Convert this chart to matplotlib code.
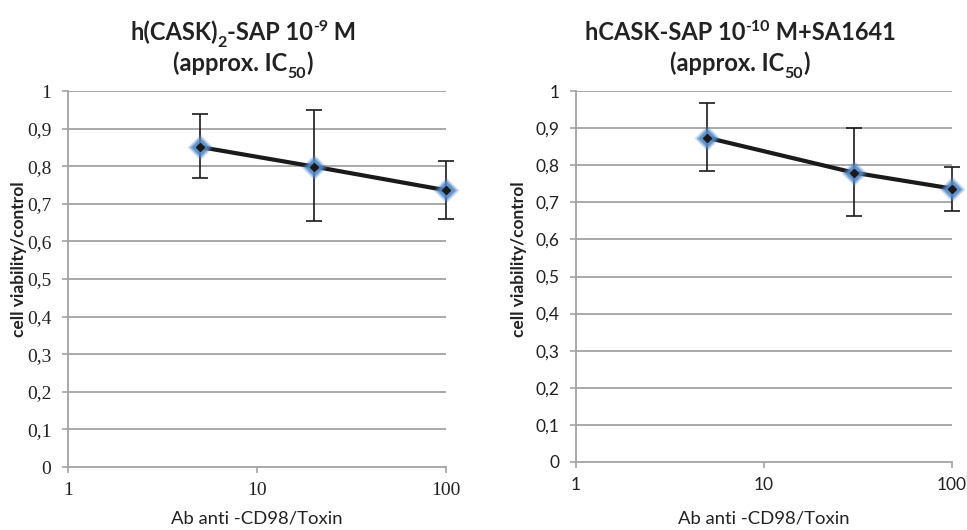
import matplotlib
matplotlib.use("Agg")
import matplotlib.pyplot as plt
import numpy as np

# Data
x_left = [5, 20, 100]
y_left = [0.851, 0.799, 0.736]
err_low_left = [0.768, 0.653, 0.660]
err_high_left = [0.938, 0.950, 0.814]

x_right = [5, 30, 100]
y_right = [0.874, 0.780, 0.737]
err_low_right = [0.784, 0.663, 0.677]
err_high_right = [0.969, 0.900, 0.794]

yticks = [0, 0.1, 0.2, 0.3, 0.4, 0.5, 0.6, 0.7, 0.8, 0.9, 1.0]
ytick_labels = ["0", "0,1", "0,2", "0,3", "0,4", "0,5", "0,6", "0,7", "0,8", "0,9", "1"]
xticks = [1, 10, 100]
xtick_labels = ["1", "10", "100"]

# title segments: (text, kind) with kind n / sub / sup
title_left = [[("h(CASK)", "n"), ("2", "sub"), ("-SAP 10", "n"), ("-9", "sup"), (" M", "n")],
              [("(approx. IC", "n"), ("50", "sub"), (")", "n")]]
title_right = [[("hCASK-SAP 10", "n"), ("-10", "sup"), (" M+SA1641", "n")],
               [("(approx. IC", "n"), ("50", "sub"), (")", "n")]]
xlabel = "Ab anti -CD98/Toxin"
ylabel = "cell viability/control"

W, H = 967, 530
fig = plt.figure(figsize=(W / 100, H / 100), dpi=100)
renderer = fig.canvas.get_renderer()

grid_c = "#a3a3a3"
txt_c = "#222222"


def rich_line(cx, cy, segs, size):
    """Draw a line of bold text with sub/superscripts, centred at (cx, cy) pixels."""
    arts = []
    total = 0.0
    for s, kind in segs:
        fs = size if kind == "n" else size * 0.68
        t = fig.text(0, 0, s, fontsize=fs, fontweight="bold", family="Lato",
                     color=txt_c, ha="left", va="baseline")
        w = t.get_window_extent(renderer).width
        arts.append((t, kind, w))
        total += w
    x = cx - total / 2
    base = cy + size * 1.39 * 0.35  # baseline in px from top
    for t, kind, w in arts:
        if kind == "n":
            yb = base
        elif kind == "sub":
            yb = base + size * 1.39 * 0.28
        else:
            yb = base - size * 1.39 * 0.38
        t.set_position((x / W, 1 - yb / H))
        x += w


def make_ax(rect, xs, ys, lo, hi, tick_font, tick_size, title, title_cx, ylab_x):
    l, b, w, h = rect
    ax = fig.add_axes([l / W, 1 - (b + h) / H, w / W, h / H])
    ax.set_xscale("log")
    ax.set_xlim(1, 100)
    ax.set_ylim(0, 1)
    ax.set_yticks(yticks)
    ax.set_yticklabels(ytick_labels, family=tick_font, fontsize=tick_size)
    ax.set_xticks(xticks)
    ax.set_xticklabels(xtick_labels, family=tick_font, fontsize=tick_size)
    ax.xaxis.set_minor_locator(matplotlib.ticker.NullLocator())
    for t in yticks[1:]:
        ax.axhline(t, color=grid_c, lw=1.3, zorder=1)
    for s in ["top", "right"]:
        ax.spines[s].set_visible(False)
    for s in ["left", "bottom"]:
        ax.spines[s].set_color(grid_c)
        ax.spines[s].set_linewidth(1.3)
    ax.tick_params(axis="both", colors=grid_c, length=4, width=1.2, labelcolor=txt_c)
    ax.tick_params(axis="x", pad=7)
    ax.tick_params(axis="y", pad=8)
    xs = np.array(xs); ys = np.array(ys)
    yerr = [ys - np.array(lo), np.array(hi) - ys]
    ax.errorbar(xs, ys, yerr=yerr, fmt="none", ecolor="#1a1a1a", elinewidth=1.2,
                capsize=5.5, capthick=1.2, zorder=3, clip_on=False)
    ax.plot(xs, ys, color="#1a1a1a", lw=3.0, zorder=4, clip_on=False)
    # soft blue glow diamonds
    for ms, a in [(13, 0.25), (11, 0.45), (9, 0.75)]:
        ax.plot(xs, ys, ls="none", marker="D", ms=ms, mfc="#4f86c6", mec="none",
                alpha=a, zorder=5, clip_on=False)
    ax.plot(xs, ys, ls="none", marker="D", ms=4.5, mfc="#1a1a1a", mec="#1a1a1a",
            zorder=6, clip_on=False)
    rich_line(title_cx, 32, title[0], 17)
    rich_line(title_cx, 63, title[1], 17)
    fig.text((l + w / 2) / W, 1 - 518 / H, xlabel, ha="center", va="center",
             fontsize=13.3, family="Lato", color=txt_c)
    fig.text(ylab_x / W, 1 - 259 / H, ylabel, ha="center", va="center",
             rotation=90, fontsize=12.5, fontweight="bold", family="Lato", color=txt_c)
    return ax


make_ax((68, 91, 378, 376), x_left, y_left, err_low_left, err_high_left,
        "Liberation Serif", 14, title_left, 243, 19)
make_ax((576, 91, 376, 371), x_right, y_right, err_low_right, err_high_right,
        "Lato", 12.5, title_right, 740, 519)

fig.savefig("out.png", dpi=100)
